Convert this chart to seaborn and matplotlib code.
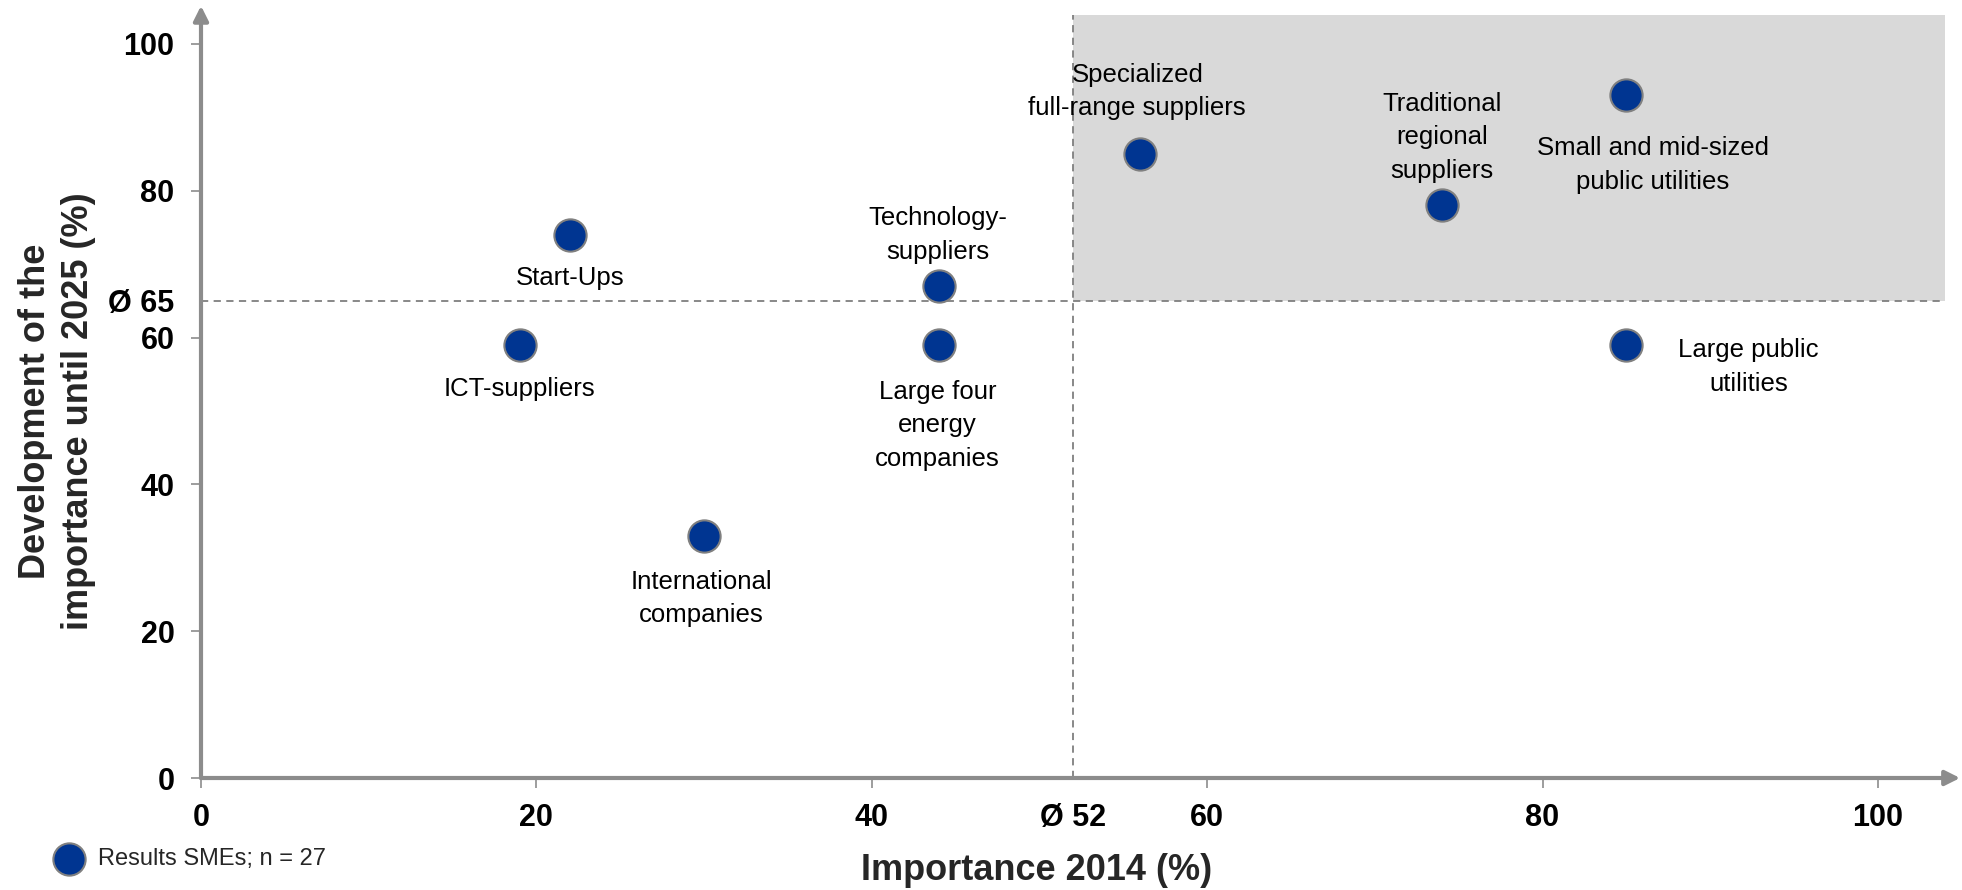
import matplotlib
matplotlib.use("Agg")
import matplotlib.pyplot as plt
import seaborn as sns
import pandas as pd

# ---- data ----
categories = [
    "Start-Ups",
    "ICT-suppliers",
    "International\ncompanies",
    "Technology-\nsuppliers",
    "Large four\nenergy\ncompanies",
    "Specialized\nfull-range suppliers",
    "Traditional\nregional\nsuppliers",
    "Small and mid-sized\npublic utilities",
    "Large public\nutilities",
]
importance_2014 = [22, 19, 30, 44, 44, 56, 74, 85, 85]
development_2025 = [74, 59, 33, 67, 59, 85, 78, 93, 59]
avg_x = 52
avg_y = 65
x_ticks = [0, 20, 40, 52, 60, 80, 100]
x_tick_labels = ["0", "20", "40", "Ø 52", "60", "80", "100"]
y_ticks = [0, 20, 40, 60, 65, 80, 100]
y_tick_labels = ["0", "20", "40", "60", "Ø 65", "80", "100"]
legend_label = "Results SMEs; n = 27"

df = pd.DataFrame({"cat": categories, "x": importance_2014, "y": development_2025})

# label offsets (points) relative to each point
offsets = {
    "Start-Ups": (0, -31),
    "ICT-suppliers": (0, -32),
    "International\ncompanies": (-2, -45),
    "Technology-\nsuppliers": (-1, 37),
    "Large four\nenergy\ncompanies": (-1, -58),
    "Specialized\nfull-range suppliers": (-2, 45),
    "Traditional\nregional\nsuppliers": (0, 49),
    "Small and mid-sized\npublic utilities": (19, -50),
    "Large public\nutilities": (88, -16),
}

sns.set_theme(style="white")
plt.rcParams["font.family"] = ["Liberation Sans", "DejaVu Sans"]

W, H = 1962, 890
fig = plt.figure(figsize=(W / 100, H / 100), dpi=100)
ax = fig.add_axes([201 / W, (H - 778) / H, 1744 / W, 763.4 / H])
ax.set_xlim(0, 104)
ax.set_ylim(0, 104)

axis_col = "#8c8c8c"
dash_col = "#7f7f7f"

# shaded quadrant
ax.fill_between([avg_x, 104], avg_y, 104, color="#d9d9d9", lw=0, zorder=0)
ax.axhline(avg_y, color=dash_col, lw=1.3, ls=(0, (4, 3)), zorder=1)
ax.axvline(avg_x, color=dash_col, lw=1.3, ls=(0, (4, 3)), zorder=1)

sns.scatterplot(data=df, x="x", y="y", ax=ax, s=540, color="#003591",
                edgecolor="#808080", linewidth=1.5, zorder=5,
                label=legend_label, legend=False)

for cat, xv, yv in zip(categories, importance_2014, development_2025):
    dx, dy = offsets[cat]
    ax.annotate(cat, (xv, yv), xytext=(dx, dy), textcoords="offset points",
                ha="center", va="center", multialignment="center",
                fontsize=18.5, color="black", linespacing=1.5, zorder=6)

# axes with arrows
for s in ax.spines.values():
    s.set_visible(False)
ax.annotate("", xy=(104.9, 0), xytext=(0, 0), xycoords="data",
            arrowprops=dict(arrowstyle="-|>", color=axis_col, lw=3,
                            mutation_scale=22, shrinkA=0, shrinkB=0),
            annotation_clip=False, zorder=3)
ax.annotate("", xy=(0, 105.2), xytext=(0, 0), xycoords="data",
            arrowprops=dict(arrowstyle="-|>", color=axis_col, lw=3,
                            mutation_scale=22, shrinkA=0, shrinkB=0),
            annotation_clip=False, zorder=3)

ax.set_xticks(x_ticks)
ax.set_xticklabels(x_tick_labels)
ax.set_yticks(y_ticks)
ax.set_yticklabels(y_tick_labels)
ax.tick_params(axis="both", which="major", length=7, width=1.2, color=axis_col,
               labelsize=22, labelcolor="black", bottom=True, left=True)
ax.tick_params(axis="x", pad=11)
ax.tick_params(axis="y", pad=12)
for lab in ax.get_xticklabels() + ax.get_yticklabels():
    lab.set_fontweight("bold")
for t in ax.xaxis.get_major_ticks():
    if t.get_loc() == avg_x:
        t.tick1line.set_visible(False)
for t in ax.yaxis.get_major_ticks():
    if t.get_loc() == avg_y:
        t.tick1line.set_visible(False)
ax.set_xlabel("")
ax.set_ylabel("")
ax.grid(False)

fig.text(1037 / W, (H - 880) / H, "Importance 2014 (%)", ha="center",
         va="baseline", fontsize=26, fontweight="bold")
fig.text(57 / W, (H - 411) / H, "Development of the\nimportance until 2025 (%)",
         rotation=90, ha="center", va="center", multialignment="center",
         fontsize=26, fontweight="bold", linespacing=1.3)

handles, labels = ax.get_legend_handles_labels()
leg = ax.legend(handles, labels, loc="center left",
                bbox_to_anchor=(52 / W, (H - 859) / H),
                bbox_transform=fig.transFigure, frameon=False,
                borderpad=0, borderaxespad=0, handlelength=1.4,
                handletextpad=0.55, fontsize=17)

fig.savefig("out.png", dpi=100)
